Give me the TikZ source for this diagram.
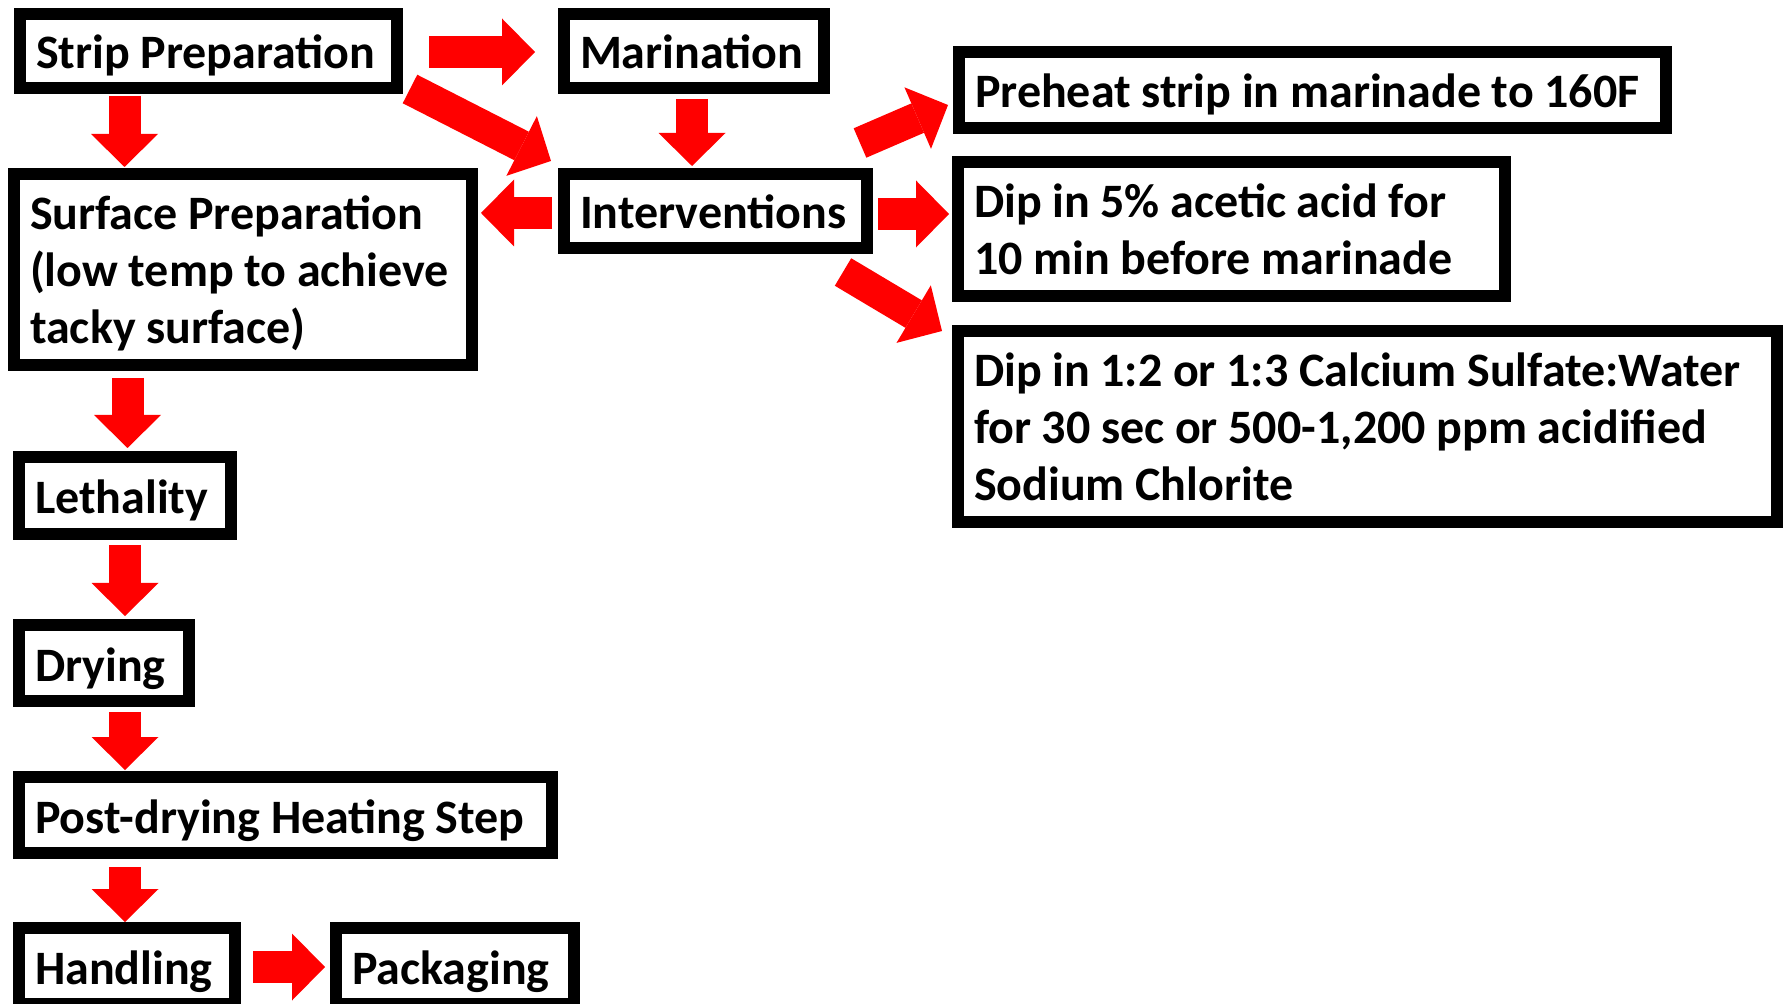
\documentclass[tikz,border=0pt]{standalone}
\usepackage{fontspec}
\setmainfont{Carlito}
\usetikzlibrary{arrows.meta,calc}
\begin{document}
\begin{tikzpicture}[x=0.5pt,y=-0.5pt,
  box/.style={draw=black, line width=6pt, fill=white, inner xsep=8pt, inner ysep=0pt,
    align=left, font=\fontsize{24}{28.5}\selectfont\bfseries,
    execute at begin node={\spaceskip=5.3pt\relax}},
  one/.style={text height=18pt, text depth=0pt},
  blk/.style={draw=red, line width=16pt,
    -{Triangle[width=33.5pt, length=16.5pt, line width=0pt, fill=red]}}]
\useasboundingbox[fill=white] (0,0) rectangle (1786,1004);
% boxes
\node[box,one,minimum width=188.5pt,minimum height=37pt,text width=172.5pt] (strip) at (208.5,51) {\mbox{Strip Preparation}};
\node[box,one,minimum width=130pt,minimum height=37pt,text width=114pt] (marin) at (694,51) {Marination};
\node[box,one,minimum width=353.5pt,minimum height=38pt,text width=337.5pt] (preheat) at (1312.5,90) {\mbox{Preheat strip in marinade to 160F}};
\node[box,one,minimum width=151.5pt,minimum height=37pt,text width=135.5pt] (interv) at (715.5,211) {Interventions};
\node[box,minimum width=229pt,minimum height=95.5pt,text width=213pt] (surf) at (243,269.5) {\rule{0pt}{21pt}\mbox{Surface Preparation}\\\mbox{(low temp to achieve}\\\mbox{tacky surface)}};
\node[box,minimum width=273.5pt,minimum height=67pt,text width=257.5pt] (dipa) at (1231.5,229) {\mbox{Dip in 5\% acetic acid for}\\\mbox{10 min before marinade}};
\node[box,minimum width=409.5pt,minimum height=95.5pt,text width=393.5pt] (dipb) at (1367.5,426.5) {\mbox{Dip in 1:2 or 1:3 Calcium Sulfate:Water}\\\mbox{for 30 sec or 500-1,200 ppm acidified}\\\mbox{Sodium Chlorite}};
\node[box,one,minimum width=106pt,minimum height=38.5pt,text width=90pt] (leth) at (125,495.5) {Lethality};
\node[box,one,minimum width=85pt,minimum height=38pt,text width=69pt] (dry) at (104,663) {Drying};
\node[box,one,minimum width=266.5pt,minimum height=38pt,text width=250.5pt] (post) at (285.5,815) {\mbox{Post-drying Heating Step}};
\node[box,one,minimum width=108pt,minimum height=38pt,text width=92pt] (handl) at (127,966) {Handling};
\node[box,one,minimum width=119pt,minimum height=38pt,text width=103pt] (pack) at (455,966) {Packaging};
% block arrows
\draw[blk] ($(strip.south west)+(110.5,2)$) -- ($(surf.north west)+(116.5,-1)$);
\draw[blk] ($(strip.east)+(26,1)$) -- ($(marin.west)+(-23,1)$);
\draw[blk] ($(marin.south)+(-2,5)$) -- ($(interv.north)+(-23.5,-2)$);
\draw[blk] ($(strip.south east)+(7,-5)$) -- ($(interv.north west)+(-7,-7)$);
\draw[blk] ($(interv.west)+(-6,2)$) -- ($(surf.east)+(3,-56.5)$);
\draw[blk] ($(interv.north east)+(-13,-25)$) -- ($(preheat.south west)+(-5,-29)$);
\draw[blk] ($(interv.east)+(5,3)$) -- ($(dipa.west)+(-3,-15)$);
\draw[blk] ($(interv.south east)+(-30,18)$) -- ($(dipb.north west)+(-10,6)$);
\draw[blk] ($(surf.south west)+(119.5,7)$) -- ($(leth.north west)+(114.5,-3)$);
\draw[blk] ($(leth.south west)+(112,5)$) -- ($(dry.north west)+(112,-3)$);
\draw[blk] ($(dry.south west)+(112,5)$) -- ($(post.north west)+(112,-1)$);
\draw[blk] ($(post.south west)+(112,8)$) -- ($(handl.north west)+(112,0)$);
\draw[blk] ($(handl.east)+(12,1)$) -- ($(pack.west)+(-5,1)$);
\end{tikzpicture}
\end{document}
